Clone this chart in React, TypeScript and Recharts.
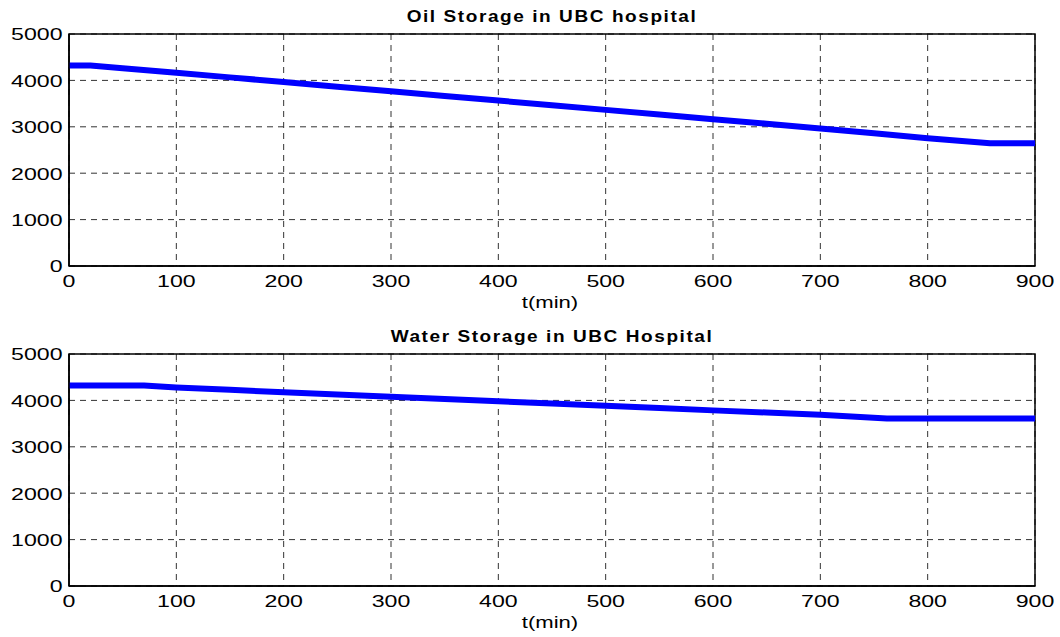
import { LineChart, Line, XAxis, YAxis, CartesianGrid, ReferenceArea } from 'recharts'

// values (t in min)
const oilT = [0, 20, 50, 100, 150, 200, 250, 300, 350, 400, 450, 500, 550, 600, 650, 700, 750, 800, 858, 900]
const oilLevel = [4320, 4320, 4260, 4165, 4065, 3965, 3865, 3765, 3665, 3565, 3465, 3365, 3265, 3165, 3065, 2965, 2860, 2755, 2645, 2645]

const waterT = [0, 70, 100, 150, 200, 250, 300, 350, 400, 450, 500, 550, 600, 650, 700, 762, 900]
const waterLevel = [4320, 4320, 4278, 4228, 4175, 4128, 4080, 4030, 3982, 3933, 3885, 3835, 3785, 3738, 3690, 3612, 3612]

const xTicks = [0, 100, 200, 300, 400, 500, 600, 700, 800, 900]
const yTicks = [0, 1000, 2000, 3000, 4000, 5000]

const oilData = oilT.map((t, i) => ({ t, v: oilLevel[i] }))
const waterData = waterT.map((t, i) => ({ t, v: waterLevel[i] }))

const FONT = '"Liberation Sans", Arial, sans-serif'
const STRETCH = 1.36 // the original lettering is drawn wide

function XTick({ x, y, payload }: any) {
  return (
    <text transform={`translate(${x},${y + 21}) scale(${STRETCH},1)`} textAnchor="middle"
      fontFamily={FONT} fontSize={17} fill="#000">{payload.value}</text>
  )
}

function YTick({ x, y, payload }: any) {
  return (
    <text transform={`translate(${x - 6.5},${y + 6.3}) scale(${STRETCH},1)`} textAnchor="end"
      fontFamily={FONT} fontSize={17} fill="#000">{payload.value}</text>
  )
}

function Panel({ data, title, top, height }: { data: { t: number; v: number }[]; title: string; top: number; height: number }) {
  return (
    <div style={{ position: 'absolute', left: 0, top, width: 1060, height }}>
      <LineChart width={1060} height={height} data={data} margin={{ top: 34, right: 25, left: 0, bottom: 0 }}>
        <CartesianGrid stroke="#333" strokeDasharray="6 5" strokeWidth={1} />
        <XAxis
          dataKey="t" type="number" domain={[0, 900]} ticks={xTicks} interval={0}
          height={height - 266} tickLine={false} tickSize={0} tickMargin={0}
          axisLine={{ stroke: '#000', strokeWidth: 1.5 }} tick={<XTick />}
        />
        <YAxis
          type="number" domain={[0, 5000]} ticks={yTicks} interval={0} width={69}
          tickLine={false} tickSize={0} tickMargin={0}
          axisLine={{ stroke: '#000', strokeWidth: 1.5 }} tick={<YTick />}
        />
        <ReferenceArea x1={0} x2={900} y1={0} y2={5000} fill="none" stroke="#000" strokeWidth={1.5} ifOverflow="visible" />
        <Line dataKey="v" stroke="#0000ff" strokeWidth={6} dot={false} isAnimationActive={false} type="linear" />
      </LineChart>
      <svg width={1060} height={height} style={{ position: 'absolute', left: 0, top: 0, pointerEvents: 'none' }}>
        <text transform={`translate(552,21.5) scale(1.12,1)`} textAnchor="middle" letterSpacing={1.4}
          fontFamily={FONT} fontWeight="bold" fontSize={17} fill="#000">{title}</text>
        <text transform={`translate(550,307.5) scale(1.3,1)`} textAnchor="middle"
          fontFamily={FONT} fontSize={17} fill="#000">t(min)</text>
      </svg>
    </div>
  )
}

export default function App() {
  return (
    <div style={{ position: 'absolute', left: 0, top: 0, width: 1060, height: 637, background: '#fff' }}>
      <Panel data={oilData} title="Oil Storage in UBC hospital" top={0} height={320} />
      <Panel data={waterData} title="Water Storage in UBC Hospital" top={320} height={317} />
    </div>
  )
}
